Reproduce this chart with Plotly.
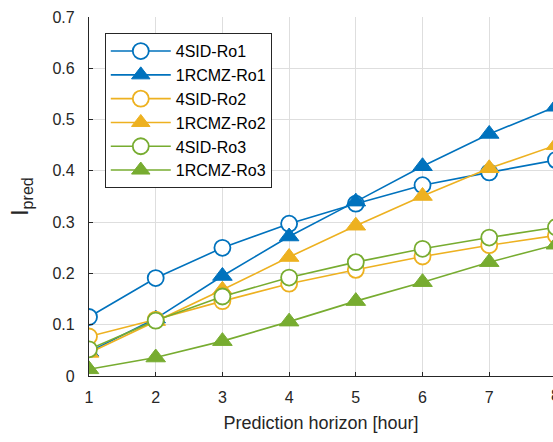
import plotly.graph_objects as go

hours = [1, 2, 3, 4, 5, 6, 7, 8]
sid_ro1 = [0.115, 0.191, 0.250, 0.297, 0.336, 0.372, 0.397, 0.421]
rcmz_ro1 = [0.047, 0.112, 0.195, 0.272, 0.340, 0.409, 0.472, 0.525]
sid_ro2 = [0.077, 0.110, 0.146, 0.180, 0.207, 0.233, 0.255, 0.274]
rcmz_ro2 = [0.045, 0.107, 0.168, 0.232, 0.293, 0.351, 0.405, 0.450]
sid_ro3 = [0.052, 0.108, 0.155, 0.192, 0.222, 0.248, 0.270, 0.290]
rcmz_ro3 = [0.013, 0.036, 0.068, 0.106, 0.146, 0.183, 0.222, 0.256]

names = ["4SID-Ro1", "1RCMZ-Ro1", "4SID-Ro2", "1RCMZ-Ro2", "4SID-Ro3", "1RCMZ-Ro3"]
series = [sid_ro1, rcmz_ro1, sid_ro2, rcmz_ro2, sid_ro3, rcmz_ro3]
colors = ["#0072BD", "#0072BD", "#EDB120", "#EDB120", "#77AC30", "#77AC30"]
symbols = ["circle", "triangle-up", "circle", "triangle-up", "circle", "triangle-up"]

fig = go.Figure()
for name, ys, c, s in zip(names, series, colors, symbols):
    if s == "circle":
        marker = dict(symbol=s, size=16, color="white", line=dict(color=c, width=1.8))
    else:
        marker = dict(symbol=s, size=17, color=c, line=dict(color=c, width=1))
    fig.add_trace(go.Scatter(x=hours, y=ys, name=name, mode="lines+markers",
                             line=dict(color=c, width=1.6), marker=marker))

fig.update_layout(
    width=553, height=442,
    margin=dict(l=89, r=0, t=17, b=66),
    plot_bgcolor="white", paper_bgcolor="white",
    font=dict(family="Liberation Sans, Arial, sans-serif", size=16, color="#262626"),
    showlegend=True,
    legend=dict(x=0.034, y=0.955, xanchor="left", yanchor="top",
                bgcolor="white", bordercolor="#262626", borderwidth=1,
                font=dict(size=16, color="#000000"), tracegroupgap=0,
                itemwidth=60),
)
fig.update_xaxes(range=[1, 7.956], tickvals=hours, ticks="inside", ticklen=4,
                 tickcolor="#262626", showline=True, linecolor="#262626", linewidth=1.3,
                 showgrid=True, gridcolor="#dedede", gridwidth=1.3, zeroline=False,
                 ticklabelstandoff=7, tickfont=dict(size=16),
                 title=dict(text="Prediction horizon [hour]", font=dict(size=18), standoff=11))
fig.update_yaxes(range=[0, 0.7], dtick=0.1, ticks="inside", ticklen=4,
                 tickcolor="#262626", showline=True, linecolor="#262626", linewidth=1.3,
                 showgrid=True, gridcolor="#dedede", gridwidth=1.3, zeroline=False,
                 tickformat="~g", ticklabelstandoff=10, tickfont=dict(size=16),
                 title=dict(text="I<sub>pred</sub>", font=dict(size=23), standoff=17))
fig.add_annotation(x=1.0063, y=0, xref="paper", yref="paper", text="8", showarrow=False,
                   xanchor="center", yanchor="top", yshift=-9,
                   font=dict(size=16, color="#262626"))

fig.write_html("out.html")
